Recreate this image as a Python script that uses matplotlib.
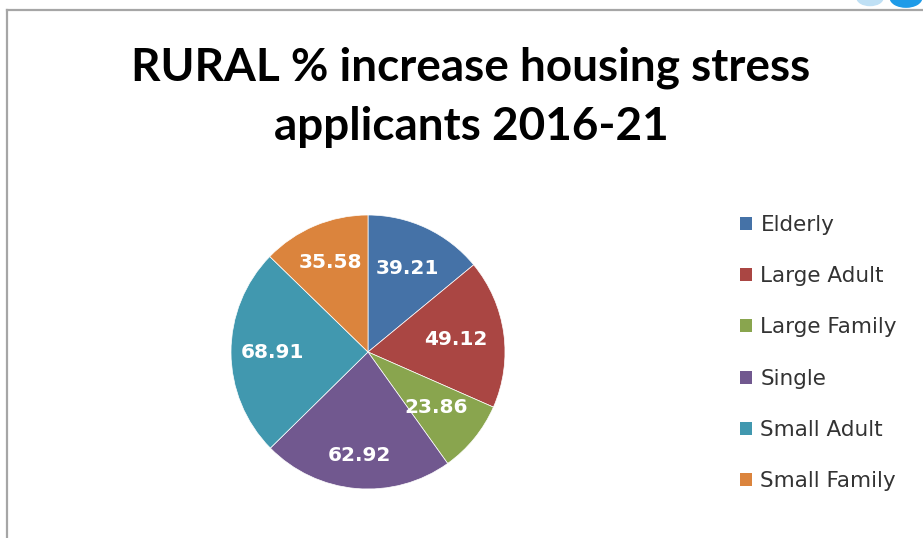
import matplotlib
matplotlib.use("Agg")
import matplotlib.pyplot as plt
from matplotlib.patches import Circle, Patch
from matplotlib.lines import Line2D
import numpy as np

categories = ["Elderly", "Large Adult", "Large Family", "Single", "Small Adult", "Small Family"]
values = [39.21, 49.12, 23.86, 62.92, 68.91, 35.58]
colors = ["#4572A7", "#AA4643", "#89A54E", "#71588F", "#4198AF", "#DB843D"]
title = "RURAL % increase housing stress\napplicants 2016-21"

W, H = 923, 538
fig = plt.figure(figsize=(W / 100, H / 100), dpi=100)
fig.patch.set_facecolor("white")

# frame lines
fig.add_artist(Line2D([7 / W, 7 / W], [0, 1 - 10 / H], color="#A6A6A6", lw=1.6, transform=fig.transFigure))
fig.add_artist(Line2D([7 / W, 1], [1 - 10 / H, 1 - 10 / H], color="#A6A6A6", lw=1.6, transform=fig.transFigure))

# title
fig.text(471 / W, 1 - 97 / H, title, ha="center", va="center", fontsize=33, fontweight="bold",
         family="Lato", color="black", linespacing=1.5)

cx, cy, r = 368, 352, 137
ax = fig.add_axes([(cx - r) / W, (H - cy - r) / H, 2 * r / W, 2 * r / H])
wedges, _ = ax.pie(values, colors=colors, startangle=90, counterclock=False, radius=1,
                   wedgeprops=dict(edgecolor="white", linewidth=0.5))
ax.set_xlim(-1, 1)
ax.set_ylim(-1, 1)
ax.set_aspect("equal")
ax.axis("off")

dists = [0.67, 0.65, 0.64, 0.76, 0.70, 0.71]
for w, v, d in zip(wedges, values, dists):
    ang = np.deg2rad((w.theta1 + w.theta2) / 2)
    ax.text(d * np.cos(ang), d * np.sin(ang), f"{v:.2f}", ha="center", va="center",
            color="white", fontsize=14.5, fontweight="bold", family="DejaVu Sans")

handles = [Patch(facecolor=c, edgecolor="none") for c in colors]
leg = fig.legend(handles, categories, loc="upper left", bbox_to_anchor=(740 / W, 1 - 215 / H),
                 frameon=False, fontsize=15.5, handlelength=0.55, handleheight=0.55,
                 handletextpad=0.4, labelspacing=1.45, borderaxespad=0, borderpad=0)
for t in leg.get_texts():
    t.set_color("#333333")
    t.set_family("DejaVu Sans")

# corner icon
fig.add_artist(Circle((870 / W, 1 + 2 / H), 0.014, color="#BFE0F5", transform=fig.transFigure, clip_on=False))
fig.add_artist(Circle((906 / W, 1 + 2 / H), 0.017, color="#1E9BE8", transform=fig.transFigure, clip_on=False))

fig.savefig("out.png", dpi=100, facecolor="white")
